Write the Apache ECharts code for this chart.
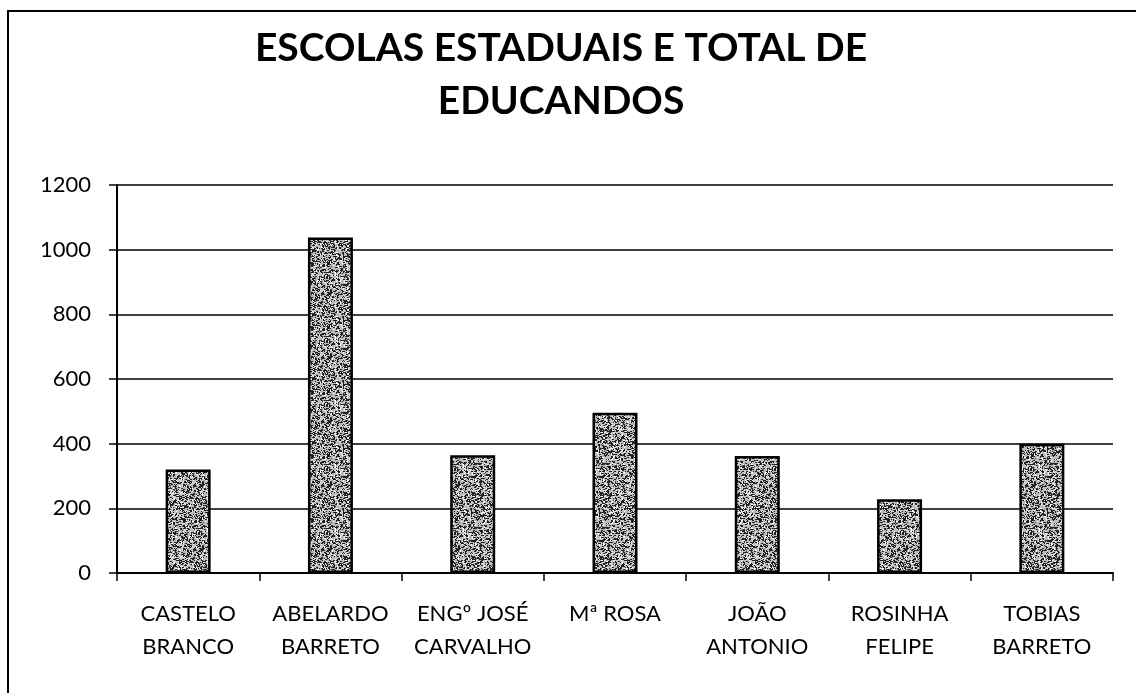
<!DOCTYPE html>
<html>
<head>
<meta charset="utf-8">
<script src="https://cdn.jsdelivr.net/npm/echarts@6/dist/echarts.min.js"></script>
<style>
html,body{margin:0;padding:0;background:#fff;}
#chart{width:1136px;height:693px;}
</style>
</head>
<body>
<div id="chart"></div>
<script>
// dados
var escolas = ['CASTELO\nBRANCO', 'ABELARDO\nBARRETO', 'ENGº JOSÉ\nCARVALHO', 'Mª ROSA', 'JOÃO\nANTONIO', 'ROSINHA\nFELIPE', 'TOBIAS\nBARRETO'];
var educandos = [320, 1038, 364, 496, 362, 228, 400];
var yTicks = [0, 200, 400, 600, 800, 1000, 1200];

// textura pontilhada das barras (padrão fixo gerado por hash, não são dados)
function makeStipple(){
	var size = 64;
	var c = document.createElement('canvas');
	c.width = size; c.height = size;
	var ctx = c.getContext('2d');
	ctx.fillStyle = '#bdbdbd';
	ctx.fillRect(0, 0, size, size);
	var s = 12345;
	function next(){
		s = (s * 1103515245 + 12345) >>> 0;
		return (s >>> 16) & 0x7fff;
	}
	for(var i = 0; i < 2200; i++){
		var x = next() % size;
		var y = next() % size;
		var k = next() % 3;
		ctx.fillStyle = k === 0 ? '#ffffff' : '#222222';
		ctx.fillRect(x, y, k === 2 ? 2 : 1, 1);
	}
	return c;
}

var chart = echarts.init(document.getElementById('chart'));
chart.setOption({
	backgroundColor: '#fff',
	animation: false,
	title: {
		text: 'ESCOLAS ESTADUAIS E TOTAL DE\nEDUCANDOS',
		left: 561,
		textAlign: 'center',
		top: 22,
		padding: 0,
		textStyle: {
			fontFamily: 'Lato',
			fontWeight: 'bold',
			fontSize: 39,
			lineHeight: 53,
			color: '#000'
		}
	},
	graphic: [{
		type: 'rect',
		shape: {x: 8, y: 11, width: 1140, height: 700},
		style: {fill: 'none', stroke: '#000', lineWidth: 2},
		silent: true
	}],
	grid: {left: 117, right: 23, top: 185, bottom: 120},
	xAxis: {
		type: 'category',
		data: escolas,
		axisLine: {lineStyle: {color: '#000', width: 2}},
		axisTick: {show: true, length: 8, lineStyle: {color: '#000', width: 1.5}},
		axisLabel: {
			color: '#000',
			fontFamily: 'Lato',
			fontSize: 22,
			lineHeight: 33,
			margin: 24,
			interval: 0
		}
	},
	yAxis: {
		type: 'value',
		min: yTicks[0],
		max: yTicks[yTicks.length - 1],
		interval: 200,
		axisLine: {show: true, lineStyle: {color: '#000', width: 2}},
		axisTick: {show: true, length: 8, lineStyle: {color: '#000', width: 1.5}},
		splitLine: {lineStyle: {color: '#000', width: 1.5}},
		axisLabel: {
			color: '#000',
			fontFamily: 'Lato',
			fontSize: 22,
			margin: 26,
			formatter: function(v){ return String(v); }
		}
	},
	series: [{
		type: 'bar',
		data: educandos,
		barWidth: 45,
		itemStyle: {
			color: {image: makeStipple(), repeat: 'repeat'},
			borderColor: '#000',
			borderWidth: 2.5
		}
	}]
});
</script>
</body>
</html>
